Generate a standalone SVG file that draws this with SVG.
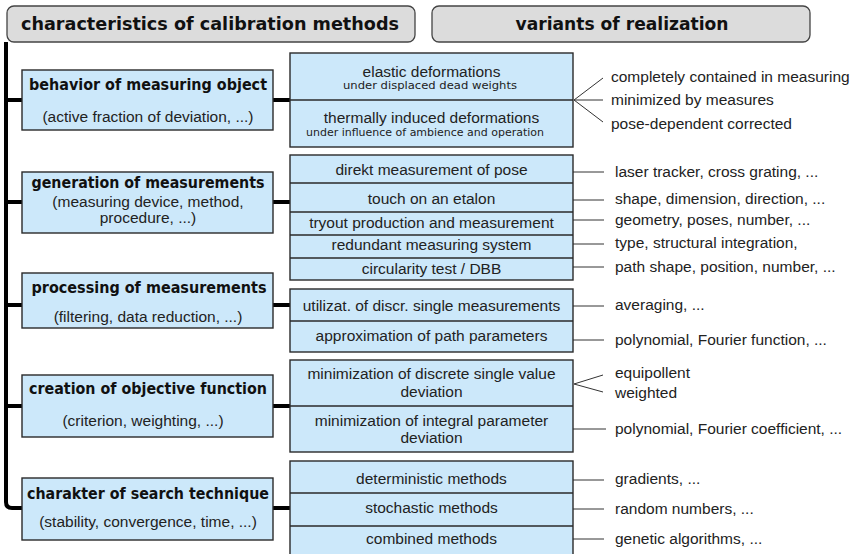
<svg xmlns="http://www.w3.org/2000/svg" width="860" height="554" viewBox="0 0 860 554">
  <style>
    .hdr { fill: #dcdcdc; stroke: #444; stroke-width: 1.3; }
    .hdr-t { font-family: "DejaVu Sans", Verdana, sans-serif; font-weight: bold; font-size: 18px; fill: #111; text-anchor: middle; }
    .box { fill: #cce8fa; stroke: #2a2a2a; stroke-width: 1.4; }
    .div { stroke: #2a2a2a; stroke-width: 1.4; fill: none; }
    .title { font-family: "DejaVu Sans", Verdana, sans-serif; font-weight: bold; font-size: 15px; fill: #111; text-anchor: middle; }
    .sub { font-family: "Liberation Sans", Arial, sans-serif; font-size: 15.5px; fill: #222; text-anchor: middle; }
    .mid { font-family: "Liberation Sans", Arial, sans-serif; font-size: 15.5px; fill: #222; text-anchor: middle; }
    .small { font-family: "DejaVu Sans", Verdana, sans-serif; font-size: 11px; fill: #222; text-anchor: middle; }
    .note { font-family: "Liberation Sans", Arial, sans-serif; font-size: 15.5px; fill: #222; }
    .trunk { stroke: #000; stroke-width: 4; fill: none; }
    .thin { stroke: #333; stroke-width: 1; fill: none; }
  </style>

  <rect width="860" height="554" fill="#ffffff"/>

  <!-- column headers -->
  <g id="header-characteristics">
    <rect class="hdr" x="7" y="6" width="408" height="36" rx="7"/>
    <text class="hdr-t" x="210" y="30" textLength="378" lengthAdjust="spacingAndGlyphs">characteristics of calibration methods</text>
  </g>
  <g id="header-variants">
    <rect class="hdr" x="432" y="6" width="378" height="36" rx="7"/>
    <text class="hdr-t" x="622" y="30" textLength="213" lengthAdjust="spacingAndGlyphs">variants of realization</text>
  </g>

  <!-- connectors -->
  <g id="connectors">
    <!-- main trunk with branches -->
    <path class="trunk" d="M6,42 V502 Q6,508 12,508 H22"/>
    <path class="trunk" d="M6,100 H22 M6,202 H22 M6,305 H22 M6,406 H22"/>
    <!-- characteristic to variant groups -->
    <path class="trunk" d="M273,100 H290 M273,202 H290 M273,305 H290 M273,406 H290 M273,508 H290"/>
    <!-- variant to notes -->
    <path class="thin" d="M574,100 L603,78 M574,100 H603 M574,100 L603,122"/>
    <path class="thin" d="M573,172 H604 M573,200 H604 M573,220 H604 M573,244 H604 M573,267 H604"/>
    <path class="thin" d="M573,306 H604 M573,340 H604"/>
    <path class="thin" d="M574,384 L603,375 M574,384 L603,392 M573,429 H606"/>
    <path class="thin" d="M573,480 H604 M573,509 H604 M573,539 H604"/>
  </g>

  <!-- characteristics -->
  <g id="behavior">
    <rect class="box" x="22" y="70" width="251" height="60"/>
    <text class="title" x="148" y="90" textLength="238" lengthAdjust="spacingAndGlyphs">behavior of measuring object</text>
    <text class="sub" x="148" y="122">(active fraction of deviation, ...)</text>
  </g>
  <g id="generation">
    <rect class="box" x="22" y="172" width="251" height="61"/>
    <text class="title" x="148" y="188" textLength="233" lengthAdjust="spacingAndGlyphs">generation of measurements</text>
    <text class="sub" x="148" y="207">(measuring device, method,</text>
    <text class="sub" x="148" y="223">procedure, ...)</text>
  </g>
  <g id="processing">
    <rect class="box" x="22" y="273" width="251" height="55"/>
    <text class="title" x="149" y="293" textLength="235" lengthAdjust="spacingAndGlyphs">processing of measurements</text>
    <text class="sub" x="148" y="322">(filtering, data reduction, ...)</text>
  </g>
  <g id="objective">
    <rect class="box" x="22" y="375" width="251" height="62"/>
    <text class="title" x="148" y="394" textLength="238" lengthAdjust="spacingAndGlyphs">creation of objective function</text>
    <text class="sub" x="143" y="426">(criterion, weighting, ...)</text>
  </g>
  <g id="search">
    <rect class="box" x="22" y="478" width="251" height="62"/>
    <text class="title" x="148" y="499" textLength="242" lengthAdjust="spacingAndGlyphs">charakter of search technique</text>
    <text class="sub" x="148" y="527">(stability, convergence, time, ...)</text>
  </g>

  <!-- variants: deformations -->
  <g id="variants-deformation">
    <rect class="box" x="290" y="53" width="283" height="94"/>
    <path class="div" d="M290,100 H573"/>
    <text class="mid" x="431.5" y="77">elastic deformations</text>
    <text class="small" x="430" y="89" textLength="174" lengthAdjust="spacingAndGlyphs">under displaced dead weights</text>
    <text class="mid" x="431.5" y="123">thermally induced deformations</text>
    <text class="small" x="425" y="136" textLength="238" lengthAdjust="spacingAndGlyphs">under influence of ambience and operation</text>
  </g>
  <g id="notes-deformation">
    <text class="note" x="611" y="82">completely contained in measuring</text>
    <text class="note" x="611" y="105">minimized by measures</text>
    <text class="note" x="611" y="129">pose-dependent corrected</text>
  </g>

  <!-- variants: measurement generation -->
  <g id="variants-generation">
    <rect class="box" x="290" y="155" width="283" height="125"/>
    <path class="div" d="M290,183 H573 M290,212 H573 M290,235 H573 M290,258 H573"/>
    <text class="mid" x="431.5" y="175">direkt measurement of pose</text>
    <text class="mid" x="431.5" y="204">touch on an etalon</text>
    <text class="mid" x="431.5" y="228">tryout production and measurement</text>
    <text class="mid" x="431.5" y="250">redundant measuring system</text>
    <text class="mid" x="431.5" y="274">circularity test / DBB</text>
  </g>
  <g id="notes-generation">
    <text class="note" x="615" y="177">laser tracker, cross grating, ...</text>
    <text class="note" x="615" y="204">shape, dimension, direction, ...</text>
    <text class="note" x="615" y="225">geometry, poses, number, ...</text>
    <text class="note" x="615" y="248">type, structural integration,</text>
    <text class="note" x="615" y="272">path shape, position, number, ...</text>
  </g>

  <!-- variants: processing -->
  <g id="variants-processing">
    <rect class="box" x="290" y="289" width="283" height="63"/>
    <path class="div" d="M290,321 H573"/>
    <text class="mid" x="431.5" y="311">utilizat. of discr. single measurements</text>
    <text class="mid" x="431.5" y="341">approximation of path parameters</text>
  </g>
  <g id="notes-processing">
    <text class="note" x="615" y="310">averaging, ...</text>
    <text class="note" x="615" y="345">polynomial, Fourier function, ...</text>
  </g>

  <!-- variants: objective function -->
  <g id="variants-objective">
    <rect class="box" x="290" y="360" width="283" height="92"/>
    <path class="div" d="M290,406 H573"/>
    <text class="mid" x="431.5" y="379">minimization of discrete single value</text>
    <text class="mid" x="431.5" y="397">deviation</text>
    <text class="mid" x="431.5" y="426">minimization of integral parameter</text>
    <text class="mid" x="431.5" y="443">deviation</text>
  </g>
  <g id="notes-objective">
    <text class="note" x="615" y="378">equipollent</text>
    <text class="note" x="615" y="398">weighted</text>
    <text class="note" x="615" y="434">polynomial, Fourier coefficient, ...</text>
  </g>

  <!-- variants: search technique -->
  <g id="variants-search">
    <rect class="box" x="290" y="461" width="283" height="100"/>
    <path class="div" d="M290,493 H573 M290,526 H573"/>
    <text class="mid" x="431.5" y="484">deterministic methods</text>
    <text class="mid" x="431.5" y="513">stochastic methods</text>
    <text class="mid" x="431.5" y="544">combined methods</text>
  </g>
  <g id="notes-search">
    <text class="note" x="615" y="484">gradients, ...</text>
    <text class="note" x="615" y="514">random numbers, ...</text>
    <text class="note" x="615" y="544">genetic algorithms, ...</text>
  </g>
</svg>
